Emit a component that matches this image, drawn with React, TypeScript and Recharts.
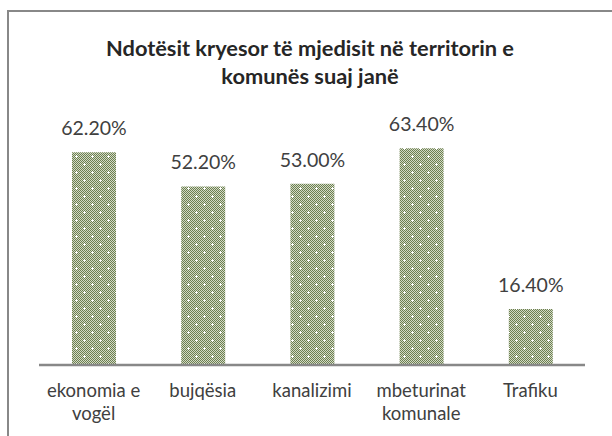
import { BarChart, Bar, XAxis, YAxis, LabelList } from 'recharts';

// Ndotësit kryesor — bar chart with Excel-style dotted pattern fill

const categories = ['ekonomia e vogël', 'bujqësia', 'kanalizimi', 'mbeturinat komunale', 'Trafiku'];
const tickLines = [['ekonomia e', 'vogël'], ['bujqësia'], ['kanalizimi'], ['mbeturinat', 'komunale'], ['Trafiku']];
const values = [62.2, 52.2, 53.0, 63.4, 16.4];
const titleLines = ['Ndotësit kryesor të mjedisit në territorin e', 'komunës suaj janë'];

const data = categories.map((name, i) => ({ name, value: values[i] }));

const FONT = 'Lato, "Open Sans", sans-serif';
const TEXT = '#404040';

const CategoryTick = ({ x, y, index }: any) => {
  const lines = tickLines[index] || [];
  return (
    <text x={x} y={y} textAnchor="middle" fill={TEXT} fontSize={18.5} fontFamily={FONT}>
      {lines.map((l, i) => (
        <tspan key={i} x={x} dy={i === 0 ? 32 : 22.5}>{l}</tspan>
      ))}
    </text>
  );
};

const App = () => (
  <div style={{ position: 'absolute', left: 0, top: 0, width: 612, height: 436, overflow: 'hidden', background: '#fff' }}>
    <svg width={612} height={436} style={{ position: 'absolute', left: 0, top: 0 }}>
      <defs>
        <pattern id="chk" width={2} height={2} patternUnits="userSpaceOnUse">
          <rect width={2} height={2} fill="#d3dac6" />
          <rect x={0} y={0} width={1} height={1} fill="#6c7f50" />
          <rect x={1} y={1} width={1} height={1} fill="#6c7f50" />
        </pattern>
        <pattern id="dots" width={16} height={16} patternUnits="userSpaceOnUse">
          <rect width={16} height={16} fill="url(#chk)" />
          <rect x={3} y={4} width={3} height={1} fill="#fff" />
          <rect x={4} y={3} width={1} height={3} fill="#fff" />
          <rect x={11} y={12} width={3} height={1} fill="#fff" />
          <rect x={12} y={11} width={1} height={3} fill="#fff" />
        </pattern>
      </defs>
      <rect x={8} y={11} width={620} height={440} fill="none" stroke="#888" strokeWidth={2} />
      <text x={310} textAnchor="middle" fill="#262626" fontFamily={FONT} fontWeight={700} fontSize={21.8}>
        <tspan x={310} y={56}>{titleLines[0]}</tspan>
        <tspan x={310} y={83.5}>{titleLines[1]}</tspan>
      </text>
    </svg>
    <div style={{ position: 'absolute', left: 0, top: 0 }}>
      <BarChart width={612} height={436} data={data} margin={{ top: 125.6, right: 27, left: 39, bottom: 11 }} barSize={44}>
        <XAxis
          dataKey="name"
          height={60}
          axisLine={{ stroke: '#888', strokeWidth: 2.5 }}
          tickLine={false}
          tickSize={0}
          tickMargin={0}
          interval={0}
          tick={<CategoryTick />}
        />
        <YAxis hide domain={[0, 70]} />
        <Bar dataKey="value" fill="url(#dots)" isAnimationActive={false}>
          <LabelList
            dataKey="value"
            position="top"
            offset={17}
            formatter={(v: any) => `${Number(v).toFixed(2)}%`}
            fill={TEXT}
            fontSize={19.5}
            fontFamily={FONT}
          />
        </Bar>
      </BarChart>
    </div>
  </div>
);

export default App;
